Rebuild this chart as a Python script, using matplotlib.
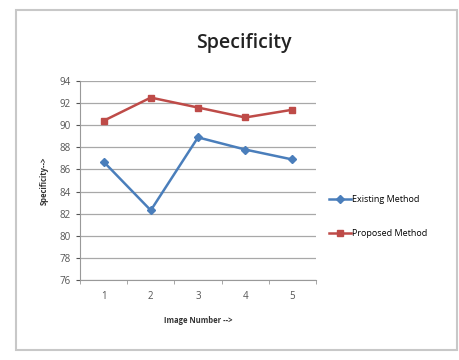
import numpy as np
import matplotlib.pyplot as plt
from matplotlib.patches import Rectangle

images = [1, 2, 3, 4, 5]
existing = [86.7, 82.3, 88.9, 87.8, 86.9]
proposed = [90.4, 92.5, 91.6, 90.7, 91.4]
yticks = np.arange(76, 95, 2)

plt.rcParams['font.family'] = ['Open Sans', 'DejaVu Sans']

fig = plt.figure(figsize=(4.59, 3.6), dpi=100)
# outer chart frame
fig.patches.append(Rectangle((16/459, 1 - 350/360), 441/459, 340/360,
                             transform=fig.transFigure, fill=False,
                             edgecolor="#c8c8c8", linewidth=1.5))

ax = fig.add_axes([80/459, 1 - 280/360, 236/459, 199/360])

ax.plot(images, existing, color="#4a7ebb", marker="D", markersize=4,
        linewidth=1.8, label="Existing Method")
ax.plot(images, proposed, color="#be4b48", marker="s", markersize=5,
        linewidth=1.8, label="Proposed Method")

ax.set_xlim(0.5, 5.5)
ax.set_ylim(76, 94)
ax.set_yticks(yticks)
ax.set_xticks(images)
ax.set_xticks(np.arange(0.5, 6, 1), minor=True)
ax.tick_params(axis="x", which="major", length=0, labelsize=7, pad=8, colors="#555555")
ax.tick_params(axis="x", which="minor", length=3, direction="out", color="#999999")
ax.tick_params(axis="y", length=3, labelsize=7, colors="#555555")
ax.grid(axis="y", color="#a8a8a8", linewidth=0.9)
ax.set_axisbelow(True)
for s in ["top", "right"]:
    ax.spines[s].set_visible(False)
ax.spines["left"].set_color("#999999")
ax.spines["bottom"].set_color("#999999")

fig.text(244/459, 1 - 43/360, "Specificity", ha="center", va="center",
         fontsize=14, fontweight="semibold", color="#222222")
ax.set_ylabel("Specificity-->", fontsize=5.5, fontweight="bold", color="#333333", labelpad=8)
ax.set_xlabel("Image Number -->", fontsize=5.5, fontweight="bold", color="#333333", labelpad=10)

ax.legend(loc="center left", bbox_to_anchor=(1.02, 0.32), frameon=False,
          fontsize=6.5, handlelength=2.4, labelspacing=2.8, handletextpad=0.2)

fig.savefig("out.png", dpi=100)
